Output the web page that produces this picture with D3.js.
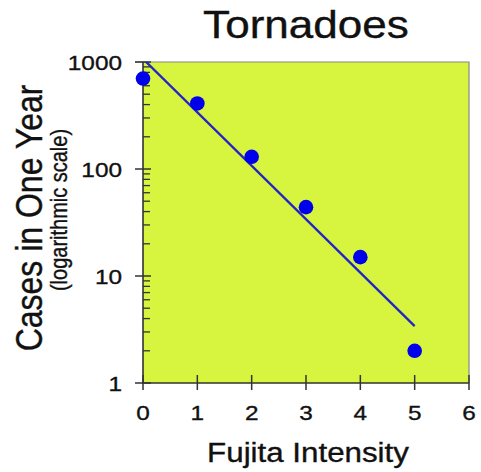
<!DOCTYPE html>
<html>
<head>
<meta charset="utf-8">
<script src="https://cdn.jsdelivr.net/npm/d3@7"></script>
<style>
  body { margin: 0; background: #fff; }
  text { font-family: "Liberation Sans", Arial, sans-serif; fill: #111; stroke: #111; stroke-width: 0.35; }
</style>
</head>
<body>
<div id="chart"></div>
<script>
const intensity = [0, 1, 2, 3, 4, 5];
const cases = [700, 410, 130, 44, 15, 2];
const fitX = [0, 5];
const fitY = [1070, 3.4];
const xTicks = [0, 1, 2, 3, 4, 5, 6];
const yTicks = [1, 10, 100, 1000];

const width = 481, height = 472;
const margin = {top: 62, right: 12, bottom: 89, left: 143};
const stretch = 1.16; // text in the original is a bit wide

const svg = d3.select('#chart')
    .append('svg')
    .attr('width', width)
    .attr('height', height);

const x = d3.scaleLinear()
    .domain([0, 6])
    .range([margin.left, width - margin.right]);

const y = d3.scaleLog()
    .domain([1, 1000])
    .range([height - margin.bottom, margin.top]);

const x0 = x.range()[0], x1 = x.range()[1],
    yb = y.range()[0], yt = y.range()[1];

// plot background
svg.append('rect')
    .attr('x', x0)
    .attr('y', yt)
    .attr('width', x1 - x0)
    .attr('height', yb - yt)
    .attr('fill', '#d7f53f');

svg.append('defs').append('clipPath')
    .attr('id', 'clip')
    .append('rect')
    .attr('x', x0)
    .attr('y', yt)
    .attr('width', x1 - x0)
    .attr('height', yb - yt);

// border on top and right
svg.append('path')
    .attr('d', `M${x0 - 8},${yt}H${x1}V${yb}`)
    .attr('fill', 'none')
    .attr('stroke', '#888')
    .attr('stroke-width', 1.2);

// minor y ticks (inside)
const minor = [];
for (let d = 1; d < 1000; d *= 10) {
    for (let k = 2; k <= 9; k++) minor.push(d * k);
}
svg.selectAll('.minor')
    .data(minor)
    .enter()
    .append('line')
    .attr('x1', x0)
    .attr('x2', x0 + 7)
    .attr('y1', d => y(d))
    .attr('y2', d => y(d))
    .attr('stroke', '#333')
    .attr('stroke-width', 1.3);

// major y ticks
svg.selectAll('.ymajor')
    .data(yTicks)
    .enter()
    .append('line')
    .attr('x1', x0 - 8)
    .attr('x2', x0 + 8)
    .attr('y1', d => y(d))
    .attr('y2', d => y(d))
    .attr('stroke', '#333')
    .attr('stroke-width', 1.5);

// major x ticks
svg.selectAll('.xmajor')
    .data(xTicks)
    .enter()
    .append('line')
    .attr('x1', d => x(d))
    .attr('x2', d => x(d))
    .attr('y1', yb - 8)
    .attr('y2', yb + 7)
    .attr('stroke', '#333')
    .attr('stroke-width', 1.5);

// axis lines
svg.append('path')
    .attr('d', `M${x0},${yt}V${yb}H${x1}`)
    .attr('fill', 'none')
    .attr('stroke', '#333')
    .attr('stroke-width', 1.6);

// fit line
const line = d3.line()
    .x((d, i) => x(d))
    .y((d, i) => y(fitY[i]));

svg.append('path')
    .attr('clip-path', 'url(#clip)')
    .attr('d', line(fitX))
    .attr('fill', 'none')
    .attr('stroke', '#2424c4')
    .attr('stroke-width', 2.3);

// points
svg.selectAll('.dot')
    .data(intensity)
    .enter()
    .append('circle')
    .attr('cx', d => x(d))
    .attr('cy', (d, i) => y(cases[i]))
    .attr('r', 7.3)
    .attr('fill', '#0000ea');

// labels
const label = (tx, ty, str, size, anchor, rot) => {
    svg.append('text')
        .attr('transform', `translate(${tx},${ty}) scale(${stretch},1)` + (rot ? ` rotate(${rot})` : ''))
        .attr('text-anchor', anchor)
        .attr('font-size', size)
        .text(str);
};

yTicks.forEach(d => label(x0 - 21, y(d) + 8, d, 21, 'end'));
xTicks.forEach(d => label(x(d), yb + 37, d, 21, 'middle'));

label(306, 38, 'Tornadoes', 38, 'middle');
label(308, 462, 'Fujita Intensity', 27, 'middle');
label(42, 218, 'Cases in One Year', 32, 'middle', -90);
label(67, 210, '(logarithmic scale)', 20, 'middle', -90);
</script>
</body>
</html>
